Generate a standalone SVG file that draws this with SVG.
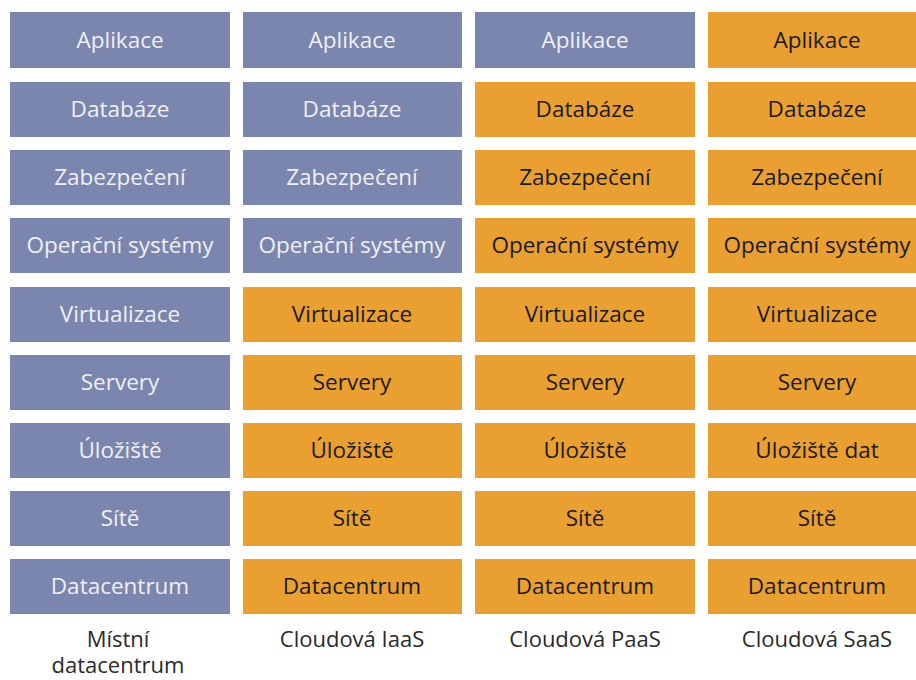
<svg xmlns="http://www.w3.org/2000/svg" width="916" height="680" viewBox="0 0 916 680">
  <style>
    .b { fill: #7b86ae; }
    .o { fill: #e9a031; }
    text { font-family: "Open Sans", "Noto Sans", sans-serif; font-size: 22.5px; text-anchor: middle; }
    .tb { fill: #f0f0f4; }
    .to { fill: #1a1a1a; }
    .cap { fill: #2a2a2a; font-size: 22px; }
  </style>
  <rect width="916" height="680" fill="#ffffff"/>

  <!-- Column 1: Místní datacentrum -->
  <g id="col-onprem">
    <g id="n1-1"><rect class="b" x="10" y="12" width="220" height="56"/><text class="tb" x="120" y="48">Aplikace</text></g>
    <g id="n1-2"><rect class="b" x="10" y="82" width="220" height="55"/><text class="tb" x="120" y="117">Databáze</text></g>
    <g id="n1-3"><rect class="b" x="10" y="150" width="220" height="55"/><text class="tb" x="120" y="185">Zabezpečení</text></g>
    <g id="n1-4"><rect class="b" x="10" y="218" width="220" height="55"/><text class="tb" x="120" y="253">Operační systémy</text></g>
    <g id="n1-5"><rect class="b" x="10" y="287" width="220" height="55"/><text class="tb" x="120" y="322">Virtualizace</text></g>
    <g id="n1-6"><rect class="b" x="10" y="355" width="220" height="55"/><text class="tb" x="120" y="390">Servery</text></g>
    <g id="n1-7"><rect class="b" x="10" y="423" width="220" height="55"/><text class="tb" x="120" y="458">Úložiště</text></g>
    <g id="n1-8"><rect class="b" x="10" y="491" width="220" height="55"/><text class="tb" x="120" y="526">Sítě</text></g>
    <g id="n1-9"><rect class="b" x="10" y="559" width="220" height="55"/><text class="tb" x="120" y="594">Datacentrum</text></g>
    <text class="cap" x="118" y="647">Místní</text>
    <text class="cap" x="118" y="673">datacentrum</text>
  </g>

  <!-- Column 2: Cloudová IaaS -->
  <g id="col-iaas">
    <g id="n2-1"><rect class="b" x="243" y="12" width="219" height="56"/><text class="tb" x="352" y="48">Aplikace</text></g>
    <g id="n2-2"><rect class="b" x="243" y="82" width="219" height="55"/><text class="tb" x="352" y="117">Databáze</text></g>
    <g id="n2-3"><rect class="b" x="243" y="150" width="219" height="55"/><text class="tb" x="352" y="185">Zabezpečení</text></g>
    <g id="n2-4"><rect class="b" x="243" y="218" width="219" height="55"/><text class="tb" x="352" y="253">Operační systémy</text></g>
    <g id="n2-5"><rect class="o" x="243" y="287" width="219" height="55"/><text class="to" x="352" y="322">Virtualizace</text></g>
    <g id="n2-6"><rect class="o" x="243" y="355" width="219" height="55"/><text class="to" x="352" y="390">Servery</text></g>
    <g id="n2-7"><rect class="o" x="243" y="423" width="219" height="55"/><text class="to" x="352" y="458">Úložiště</text></g>
    <g id="n2-8"><rect class="o" x="243" y="491" width="219" height="55"/><text class="to" x="352" y="526">Sítě</text></g>
    <g id="n2-9"><rect class="o" x="243" y="559" width="219" height="55"/><text class="to" x="352" y="594">Datacentrum</text></g>
    <text class="cap" x="352" y="647">Cloudová IaaS</text>
  </g>

  <!-- Column 3: Cloudová PaaS -->
  <g id="col-paas">
    <g id="n3-1"><rect class="b" x="475" y="12" width="220" height="56"/><text class="tb" x="585" y="48">Aplikace</text></g>
    <g id="n3-2"><rect class="o" x="475" y="82" width="220" height="55"/><text class="to" x="585" y="117">Databáze</text></g>
    <g id="n3-3"><rect class="o" x="475" y="150" width="220" height="55"/><text class="to" x="585" y="185">Zabezpečení</text></g>
    <g id="n3-4"><rect class="o" x="475" y="218" width="220" height="55"/><text class="to" x="585" y="253">Operační systémy</text></g>
    <g id="n3-5"><rect class="o" x="475" y="287" width="220" height="55"/><text class="to" x="585" y="322">Virtualizace</text></g>
    <g id="n3-6"><rect class="o" x="475" y="355" width="220" height="55"/><text class="to" x="585" y="390">Servery</text></g>
    <g id="n3-7"><rect class="o" x="475" y="423" width="220" height="55"/><text class="to" x="585" y="458">Úložiště</text></g>
    <g id="n3-8"><rect class="o" x="475" y="491" width="220" height="55"/><text class="to" x="585" y="526">Sítě</text></g>
    <g id="n3-9"><rect class="o" x="475" y="559" width="220" height="55"/><text class="to" x="585" y="594">Datacentrum</text></g>
    <text class="cap" x="585" y="647">Cloudová PaaS</text>
  </g>

  <!-- Column 4: Cloudová SaaS -->
  <g id="col-saas">
    <g id="n4-1"><rect class="o" x="708" y="12" width="208" height="56"/><text class="to" x="817" y="48">Aplikace</text></g>
    <g id="n4-2"><rect class="o" x="708" y="82" width="208" height="55"/><text class="to" x="817" y="117">Databáze</text></g>
    <g id="n4-3"><rect class="o" x="708" y="150" width="208" height="55"/><text class="to" x="817" y="185">Zabezpečení</text></g>
    <g id="n4-4"><rect class="o" x="708" y="218" width="208" height="55"/><text class="to" x="817" y="253">Operační systémy</text></g>
    <g id="n4-5"><rect class="o" x="708" y="287" width="208" height="55"/><text class="to" x="817" y="322">Virtualizace</text></g>
    <g id="n4-6"><rect class="o" x="708" y="355" width="208" height="55"/><text class="to" x="817" y="390">Servery</text></g>
    <g id="n4-7"><rect class="o" x="708" y="423" width="208" height="55"/><text class="to" x="817" y="458">Úložiště dat</text></g>
    <g id="n4-8"><rect class="o" x="708" y="491" width="208" height="55"/><text class="to" x="817" y="526">Sítě</text></g>
    <g id="n4-9"><rect class="o" x="708" y="559" width="208" height="55"/><text class="to" x="817" y="594">Datacentrum</text></g>
    <text class="cap" x="817" y="647">Cloudová SaaS</text>
  </g>
</svg>
